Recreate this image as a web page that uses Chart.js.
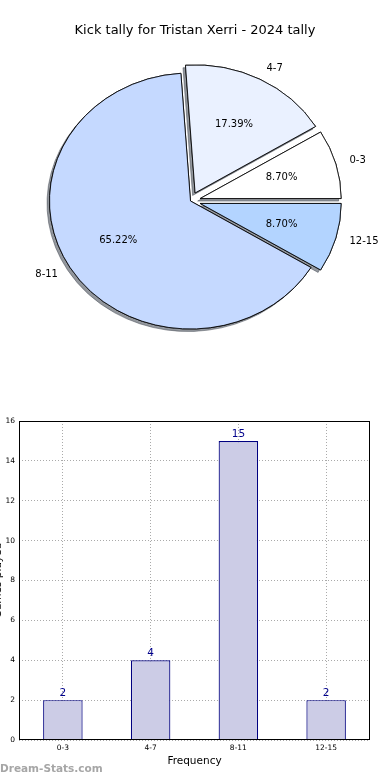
<!DOCTYPE html>
<html><head><meta charset="utf-8">
<script src="https://cdn.jsdelivr.net/npm/chart.js@4.4.1/dist/chart.umd.min.js"></script>
<style>
html,body{margin:0;padding:0;background:#fff;width:390px;height:780px;overflow:hidden;position:relative;}
#pie{position:absolute;left:0;top:0;width:390px;height:390px;}
#bar{position:absolute;left:-12px;top:395px;width:402px;height:385px;}
#wm{position:absolute;left:0;top:762px;font:bold 10.5px "DejaVu Sans";color:#a6a6a6;white-space:nowrap;}
</style></head><body>
<canvas id="pie" width="390" height="390"></canvas>
<canvas id="bar" width="402" height="385"></canvas>
<div id="wm">Dream-Stats.com</div>
<script>
// ---- data ----
const chartTitle = 'Kick tally for Tristan Xerri - 2024 tally';
const categories = ['0-3', '4-7', '8-11', '12-15'];
const tallies = [2, 4, 15, 2];
const sliceColors = ['#ffffff', '#eaf1ff', '#c5d9ff', '#b3d4ff'];
const explodeFlags = [true, true, false, true];
const yTickValues = [0, 2, 4, 6, 8, 10, 12, 14, 16];
const xAxisTitle = 'Frequency';
const yAxisTitle = 'Games played';

const FONT = '"DejaVu Sans", sans-serif';
const total = tallies.reduce((a, b) => a + b, 0);

// matplotlib draws counter-clockwise from east; Chart.js draws clockwise -> reverse order
const pieLabels = categories.slice().reverse();
const pieValues = tallies.slice().reverse();
const pieColors = sliceColors.slice().reverse();
const pieExplode = explodeFlags.slice().reverse();

const RX = 141, RY = 128, EXPLODE = 10, SHIFT_X = -4.5;

const piePlugin = {
  id: 'mplPie',
  beforeDatasetsDraw(chart) {
    const meta = chart.getDatasetMeta(0);
    const ctx = chart.ctx;
    const cx = meta.data[0].x, cy = meta.data[0].y;
    const sy = RY / RX;
    const pass = (shadow) => {
      ctx.save();
      ctx.translate(cx + SHIFT_X, cy);
      ctx.scale(1, sy);
      ctx.translate(-cx, -cy);
      meta.data.forEach((arc, i) => {
        const mid = (arc.startAngle + arc.endAngle) / 2;
        const e = pieExplode[i] ? EXPLODE : 0;
        ctx.save();
        ctx.translate(Math.cos(mid) * e, Math.sin(mid) * e);
        if (shadow) {
          ctx.shadowColor = 'rgba(59,65,77,0.55)';
          ctx.shadowOffsetX = -2.5;
          ctx.shadowOffsetY = 2.5;
          ctx.shadowBlur = 0;
        }
        arc.draw(ctx);
        ctx.restore();
      });
      ctx.restore();
    };
    pass(true);
    pass(false);
    // labels
    ctx.save();
    ctx.fillStyle = '#000';
    ctx.font = '10px ' + FONT;
    ctx.textBaseline = 'middle';
    meta.data.forEach((arc, i) => {
      const mid = (arc.startAngle + arc.endAngle) / 2;
      const e = pieExplode[i] ? EXPLODE : 0;
      const r = arc.outerRadius;
      const px = cx + Math.cos(mid) * e, py = cy + Math.sin(mid) * e;
      const toScreen = (x, y) => [x + SHIFT_X, cy + (y - cy) * sy];
      const [lx, ly] = toScreen(px + Math.cos(mid) * r * 1.1, py + Math.sin(mid) * r * 1.1);
      ctx.textAlign = Math.cos(mid) > 0 ? 'left' : 'right';
      ctx.fillText(pieLabels[i], lx, ly);
      const [tx, ty] = toScreen(px + Math.cos(mid) * r * 0.6, py + Math.sin(mid) * r * 0.6);
      ctx.textAlign = 'center';
      ctx.fillText((pieValues[i] / total * 100).toFixed(2) + '%', tx, ty);
    });
    ctx.restore();
    return false;
  }
};

new Chart(document.getElementById('pie'), {
  type: 'pie',
  data: {
    labels: pieLabels,
    datasets: [{
      data: pieValues,
      backgroundColor: pieColors,
      borderColor: '#000',
      borderWidth: 0.9,
      offset: 0,
      hoverOffset: 0
    }]
  },
  options: {
    responsive: false,
    animation: false,
    rotation: 90,
    radius: RX,
    layout: { padding: { left: 45, right: 45, top: 0, bottom: 48 } },
    plugins: {
      legend: { display: false },
      tooltip: { enabled: false },
      title: {
        display: true,
        text: chartTitle,
        color: '#000',
        font: { family: FONT, size: 13, weight: 'normal' },
        padding: { top: 23, bottom: 21.4 }
      }
    },
    events: []
  },
  plugins: [piePlugin]
});

const barPlugin = {
  id: 'mplBar',
  afterDraw(chart) {
    const ctx = chart.ctx;
    const a = chart.chartArea;
    ctx.save();
    ctx.strokeStyle = '#000';
    ctx.lineWidth = 1;
    ctx.strokeRect(Math.round(a.left) + 0.5, Math.round(a.top) + 0.5, Math.round(a.right - a.left) - 1, Math.round(a.bottom - a.top) - 1);
    const meta = chart.getDatasetMeta(0);
    ctx.fillStyle = '#00008b';
    ctx.font = '10.5px ' + FONT;
    ctx.textAlign = 'center';
    ctx.textBaseline = 'alphabetic';
    meta.data.forEach((bar, i) => {
      ctx.fillText(String(tallies[i]), bar.x, bar.y - 4);
    });
    ctx.restore();
  }
};

new Chart(document.getElementById('bar'), {
  type: 'bar',
  data: {
    labels: categories,
    datasets: [{
      data: tallies,
      backgroundColor: '#ccccE6',
      borderColor: '#000080',
      borderWidth: 1.2,
      barPercentage: 0.45,
      categoryPercentage: 1
    }]
  },
  options: {
    responsive: false,
    animation: false,
    events: [],
    layout: { padding: { left: 0, top: 26, right: 20, bottom: 0 } },
    plugins: { legend: { display: false }, tooltip: { enabled: false } },
    scales: {
      x: {
        z: 1,
        afterFit: s => { s.height = 40; },
        grid: { offset: false, color: '#aaaaaa', lineWidth: 1, drawTicks: false },
        border: { display: false, dash: [1, 2] },
        ticks: { color: '#000', font: { family: FONT, size: 7.5 }, padding: 3.5, maxRotation: 0 },
        title: { display: true, text: xAxisTitle, color: '#000', font: { family: FONT, size: 10.5 }, padding: { top: 0, bottom: 12 } }
      },
      y: {
        z: 1,
        min: 0, max: 16,
        afterFit: s => { s.width = 31; },
        afterBuildTicks: s => { s.ticks = yTickValues.map(v => ({ value: v })); },
        grid: { color: '#aaaaaa', lineWidth: 1, drawTicks: false },
        border: { display: false, dash: [1, 2] },
        ticks: { color: '#000', font: { family: FONT, size: 7.5 }, padding: 4 },
        title: { display: true, text: yAxisTitle, color: '#000', font: { family: FONT, size: 10.5 }, padding: { top: 4, bottom: 0 } }
      }
    }
  },
  plugins: [barPlugin]
});
</script>
</body></html>
